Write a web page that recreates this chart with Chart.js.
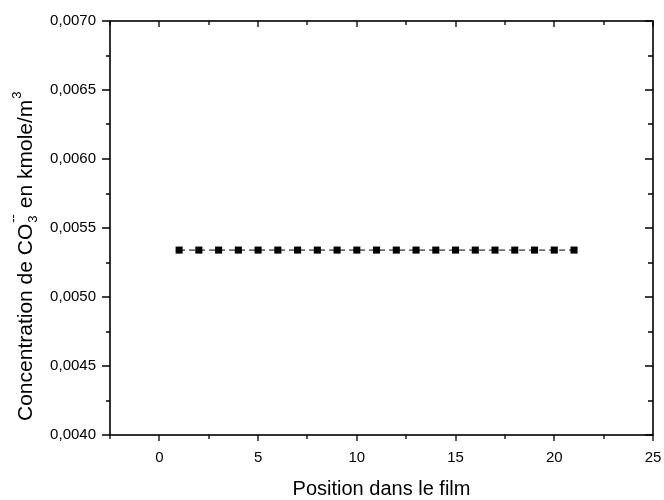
<!DOCTYPE html>
<html>
<head>
<meta charset="utf-8">
<script src="https://cdn.jsdelivr.net/npm/chart.js@4/dist/chart.umd.min.js"></script>
<style>
html,body{margin:0;padding:0;background:#fff;}
#wrap{width:664px;height:500px;position:relative;}
</style>
</head>
<body>
<div id="wrap"><canvas id="c" width="664" height="500"></canvas></div>
<script>
const positions = [1,2,3,4,5,6,7,8,9,10,11,12,13,14,15,16,17,18,19,20,21];
const concentration = [0.00534,0.00534,0.00534,0.00534,0.00534,0.00534,0.00534,0.00534,0.00534,0.00534,0.00534,0.00534,0.00534,0.00534,0.00534,0.00534,0.00534,0.00534,0.00534,0.00534,0.00534];
const xMajorTicks = [0,5,10,15,20,25];
const xMinorTicks = [-2.5,2.5,7.5,12.5,17.5,22.5];
const yMajorTicks = [0.0040,0.0045,0.0050,0.0055,0.0060,0.0065,0.0070];
const yMinorTicks = [0.00425,0.00475,0.00525,0.00575,0.00625,0.00675];
const yTickLabels = ['0,0040','0,0045','0,0050','0,0055','0,0060','0,0065','0,0070'];
const xTitle = 'Position dans le film';

const FONT = '"Liberation Sans", Arial, sans-serif';

const framePlugin = {
  id: 'frame',
  afterDraw(chart) {
    const ctx = chart.ctx;
    const a = chart.chartArea;
    const xs = chart.scales.x, ys = chart.scales.y;
    ctx.save();
    ctx.strokeStyle = '#000';
    ctx.lineWidth = 1.6;
    ctx.strokeRect(a.left, a.top, a.right - a.left, a.bottom - a.top);
    ctx.lineWidth = 1.3;
    ctx.beginPath();
    xMajorTicks.forEach(v => {
      const p = Math.round(xs.getPixelForValue(v));
      ctx.moveTo(p, a.bottom); ctx.lineTo(p, a.bottom + 6);
      ctx.moveTo(p, a.top); ctx.lineTo(p, a.top + 6);
    });
    xMinorTicks.forEach(v => {
      const p = Math.round(xs.getPixelForValue(v));
      ctx.moveTo(p, a.bottom); ctx.lineTo(p, a.bottom + 4);
      ctx.moveTo(p, a.top); ctx.lineTo(p, a.top + 4);
    });
    yMajorTicks.forEach(v => {
      const p = Math.round(ys.getPixelForValue(v));
      ctx.moveTo(a.left, p); ctx.lineTo(a.left - 8, p);
      ctx.moveTo(a.right, p); ctx.lineTo(a.right - 8, p);
    });
    yMinorTicks.forEach(v => {
      const p = Math.round(ys.getPixelForValue(v));
      ctx.moveTo(a.left, p); ctx.lineTo(a.left - 4, p);
      ctx.moveTo(a.right, p); ctx.lineTo(a.right - 5, p);
    });
    ctx.stroke();
    ctx.fillStyle = '#000';
    ctx.font = '15px ' + FONT;
    ctx.textAlign = 'center';
    ctx.textBaseline = 'middle';
    xMajorTicks.forEach(v => {
      ctx.fillText(String(v), xs.getPixelForValue(v), a.bottom + 23);
    });
    ctx.textAlign = 'right';
    yMajorTicks.forEach((v, i) => {
      ctx.fillText(yTickLabels[i], a.left - 14, ys.getPixelForValue(v));
    });
    ctx.font = '20px ' + FONT;
    ctx.textAlign = 'center';
    ctx.textBaseline = 'alphabetic';
    ctx.fillText(xTitle, (a.left + a.right) / 2, 495);
    // y title with sub/superscripts
    const big = '21px ' + FONT, small = '13px ' + FONT;
    ctx.font = big;
    const w0 = ctx.measureText('Concentration de CO').width;
    const w3 = ctx.measureText(' en kmole/m').width;
    ctx.font = small;
    const w1 = Math.max(ctx.measureText('3').width, ctx.measureText('--').width);
    ctx.translate(32, 421);
    ctx.rotate(-Math.PI / 2);
    ctx.textAlign = 'left';
    let x = 0;
    ctx.font = big; ctx.fillText('Concentration de CO', x, 0); x += w0;
    ctx.font = small; ctx.fillText('3', x + 1, 5); ctx.fillText('--', x + 1, -15);
    x += w1 + 1;
    ctx.font = big; ctx.fillText(' en kmole/m', x, 0); x += w3;
    ctx.font = small; ctx.fillText('3', x + 1, -11);
    ctx.restore();
  }
};

new Chart(document.getElementById('c'), {
  type: 'scatter',
  data: {
    datasets: [{
      data: positions.map((x, i) => ({x: x, y: concentration[i]})),
      showLine: true,
      borderColor: '#000',
      borderWidth: 1,
      borderDash: [6, 4],
      backgroundColor: '#000',
      pointStyle: 'rect',
      pointRadius: 5,
      pointBorderWidth: 0,
      pointBackgroundColor: '#000',
      pointHoverRadius: 5
    }]
  },
  options: {
    responsive: false,
    animation: false,
    events: [],
    layout: {padding: {left: 110, top: 21, right: 11, bottom: 65}},
    plugins: {legend: {display: false}, tooltip: {enabled: false}},
    scales: {
      x: {type: 'linear', display: false, min: -2.5, max: 25},
      y: {type: 'linear', display: false, min: 0.004, max: 0.007}
    }
  },
  plugins: [framePlugin]
});
</script>
</body>
</html>
